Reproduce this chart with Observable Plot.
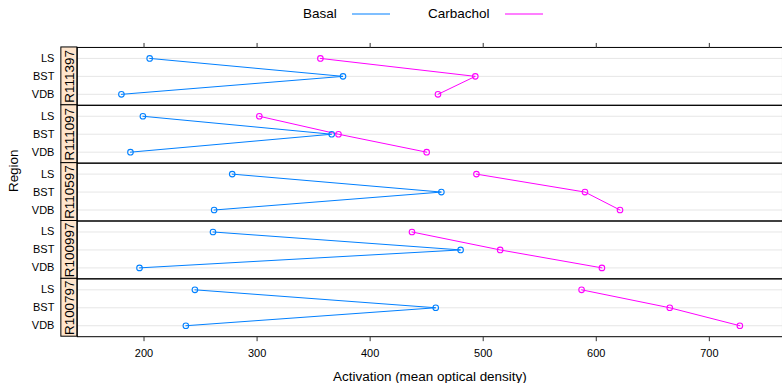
<!DOCTYPE html>
<html>
<head>
<meta charset="utf-8">
<script src="https://cdn.jsdelivr.net/npm/d3@7"></script>
<script src="https://cdn.jsdelivr.net/npm/@observablehq/plot@0.6"></script>
<style>
  body { margin: 0; background: white; font-family: "Liberation Sans", Arial, Helvetica, sans-serif; }
  #wrap { width: 782px; overflow: hidden; }
  #legend { position: relative; height: 28px; font-size: 13.5px; }
  #legend span { position: absolute; top: 0; line-height: 28px; color: #000; }
  #legend svg { position: absolute; top: 0; }
</style>
</head>
<body>
<div id="wrap">
  <div id="legend"></div>
  <div id="chart"></div>
</div>
<script>
// ---- data ----
const runs = ["R111397", "R111097", "R110597", "R100997", "R100797"];
const regions = ["LS", "BST", "VDB"];
const treatments = ["Basal", "Carbachol"];
const colors = ["#0080ff", "#ff00ff"];
// values per run, in region order LS, BST, VDB
const basal = [
  [205, 376, 180],
  [199, 366, 188],
  [278, 463, 262],
  [261, 480, 196],
  [245, 458, 237]
];
const carbachol = [
  [356, 493, 460],
  [302, 372, 450],
  [494, 590, 621],
  [437, 515, 605],
  [587, 665, 727]
];
const xTicks = [200, 300, 400, 500, 600, 700];
const xLabel = "Activation (mean optical density)";
const yLabel = "Region";

// ---- table ----
const rows = [];
[basal, carbachol].forEach((series, t) => {
  runs.forEach((run, r) => {
    regions.forEach((reg, k) => {
      rows.push({treatment: treatments[t], run, region: reg, value: series[r][k]});
    });
  });
});

// ---- legend ----
const legend = document.getElementById("legend");
const legendPos = [{text: 303, line: 352}, {text: 428, line: 505}];
treatments.forEach((t, i) => {
  const s = document.createElement("span");
  s.textContent = t;
  s.style.left = legendPos[i].text + "px";
  legend.appendChild(s);
  const svg = d3.create("svg").attr("width", 40).attr("height", 28)
    .style("left", legendPos[i].line + "px");
  svg.append("line").attr("x1", 0).attr("x2", 38).attr("y1", 14).attr("y2", 14)
    .attr("stroke", colors[i]).attr("stroke-width", 2).attr("stroke-opacity", 0.5);
  legend.appendChild(svg.node());
});

// ---- layout ----
const W = 784, H = 356, ML = 77, MR = 0, MT = 18, MB = 47, STRIP_W = 16;
const xDomain = [141, 764.7];
const xPix = d3.scaleLinear().domain(xDomain).range([ML, W - MR]);
const stripL = xPix.invert(ML - STRIP_W);
const stripR = xPix.invert(ML);
const stripM = xPix.invert(ML - STRIP_W / 2);

const chart = Plot.plot({
  width: W,
  height: H,
  marginTop: MT,
  marginBottom: MB,
  marginLeft: ML,
  marginRight: MR,
  style: {fontFamily: "'Liberation Sans', Arial, Helvetica, sans-serif", fontSize: "11px", background: "white", color: "#000"},
  x: {domain: xDomain},
  y: {type: "point", domain: regions, padding: 0.6},
  fy: {domain: runs, padding: 0},
  color: {domain: treatments, range: colors},
  marks: [
    Plot.ruleY(regions, {y: d => d, stroke: "#e6e6e6", strokeWidth: 1}),
    Plot.line(rows, {x: "value", y: "region", fy: "run", z: "treatment", stroke: "treatment", strokeWidth: 1}),
    Plot.dot(rows, {x: "value", y: "region", fy: "run", stroke: "treatment", r: 2.8, strokeWidth: 1.1}),
    Plot.frame({stroke: "#000", strokeWidth: 1}),
    Plot.rect(runs, {fy: d => d, x1: () => stripL, x2: () => stripR, fill: "#ffe5cc", stroke: "#000", strokeWidth: 1}),
    Plot.text(runs, {fy: d => d, x: () => stripM, frameAnchor: "middle", text: d => d, rotate: -90, fontSize: 13.5, fill: "#000"}),
    Plot.axisX({anchor: "top", ticks: xTicks, tickSize: 5, tickFormat: () => "", label: null, stroke: "#333"}),
    Plot.axisX({anchor: "bottom", ticks: xTicks, tickSize: 5, tickPadding: 8, label: null, fontSize: 11, fill: "#000", stroke: "#333"}),
    Plot.axisY({anchor: "left", tickSize: 0, tickPadding: 23, label: null, fontSize: 11, fill: "#000"}),
    Plot.axisFy({label: null, ticks: []}),
    Plot.text([xLabel], {fy: () => runs[runs.length - 1], frameAnchor: "bottom", dy: 44, text: d => d, fontSize: 13.5, fill: "#000"}),
    Plot.text([yLabel], {fy: () => runs[2], frameAnchor: "left", dx: -64, rotate: -90, text: d => d, fontSize: 13.5, fill: "#000"})
  ]
});
document.getElementById("chart").appendChild(chart);
</script>
</body>
</html>
